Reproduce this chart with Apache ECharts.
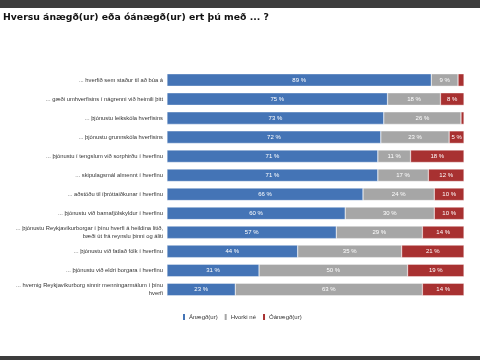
<!DOCTYPE html>
<html><head><meta charset="utf-8">
<script src="https://cdn.jsdelivr.net/npm/echarts@6/dist/echarts.min.js"></script>
<style>html,body{margin:0;padding:0;background:#fff}#c{width:480px;height:360px}</style>
</head><body><div id="c"></div>
<script>
const categories = [
  "... hverfið sem staður til að búa á",
  "... gæði umhverfisins í nágrenni við heimili þitt",
  "... þjónustu leikskóla hverfisins",
  "... þjónustu grunnskóla hverfisins",
  "... þjónustu í tengslum við sorphirðu í hverfinu",
  "... skipulagsmál almennt í hverfinu",
  "... aðstöðu til íþróttaiðkunar í hverfinu",
  "... þjónustu við barnafjölskyldur í hverfinu",
  "... þjónustu Reykjavíkurborgar í þínu hverfi á heildina litið,\nbæði út frá reynslu þinni og áliti",
  "... þjónustu við fatlað fólk í hverfinu",
  "... þjónustu við eldri borgara í hverfinu",
  "... hvernig Reykjavíkurborg sinnir menningarmálum í þínu\nhverfi"
];
const seriesNames = ["Ánægð(ur)", "Hvorki né", "Óánægð(ur)"];
const satisfied   = [89, 75, 73, 72, 71, 71, 66, 60, 57, 44, 31, 23];
const neither     = [9, 18, 26, 23, 11, 17, 24, 30, 29, 35, 50, 63];
const dissatisfied= [2, 8, 1, 5, 18, 12, 10, 10, 14, 21, 19, 14];
const colors = ["#4474b6", "#a6a6a6", "#a83131"];

const raw = [satisfied, neither, dissatisfied];
const totals = satisfied.map((v, i) => v + neither[i] + dissatisfied[i]);
const chart = echarts.init(document.getElementById('c'));
chart.setOption({
  animation: false,
  title: {
    text: "Hversu ánægð(ur) eða óánægð(ur) ert þú með ... ?",
    left: 3, top: 13, padding: 0,
    textStyle: { fontFamily: "DejaVu Sans", fontWeight: "bold", fontSize: 9.3, color: "#111" }
  },
  graphic: [
    { type: 'rect', left: 0, top: 0, shape: { width: 480, height: 8 }, style: { fill: '#3d3d3d' } },
    { type: 'rect', left: 0, top: 356, shape: { width: 480, height: 4 }, style: { fill: '#3d3d3d' } }
  ],
  legend: {
    data: seriesNames, left: 181, top: 312, padding: 0,
    itemWidth: 4, itemHeight: 8, itemGap: 5,
    icon: 'rect',
    textStyle: { fontFamily: "Liberation Sans", fontSize: 6, color: "#333", padding: [0, 0, 0, -2] }
  },
  grid: { left: 167, right: 16, top: 70.5, bottom: 61, containLabel: false, outerBoundsMode: 'none' },
  xAxis: { type: 'value', min: 0, max: 100, show: false },
  yAxis: {
    type: 'category', inverse: true, data: categories,
    axisLine: { show: false }, axisTick: { show: false },
    axisLabel: { fontFamily: "Liberation Sans", fontSize: 5.8, color: "#333", margin: 4, lineHeight: 8, align: 'right' }
  },
  series: raw.map((arr, s) => ({
    name: seriesNames[s], type: 'bar', stack: 'all', barWidth: 12.5,
    itemStyle: { color: colors[s], borderColor: '#fff', borderWidth: 0.4 },
    data: arr.map((v, i) => ({ value: v / totals[i] * 100, raw: v })),
    label: {
      show: true, position: 'inside', color: '#fff',
      fontFamily: "Liberation Sans", fontSize: 6,
      formatter: p => p.data.raw >= 3 ? p.data.raw + ' %' : ''
    }
  }))
});
</script></body></html>
